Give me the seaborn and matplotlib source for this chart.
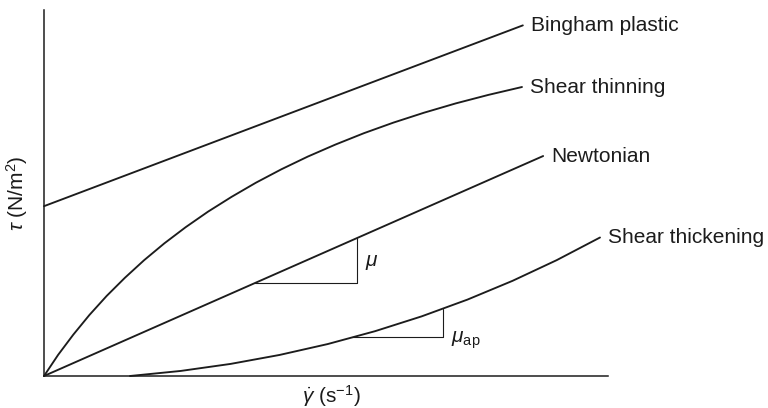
import numpy as np
import matplotlib
matplotlib.use("Agg")
import matplotlib.pyplot as plt
import seaborn as sns

# Flow curves: shear stress vs. shear rate (arbitrary units, 0-100)
bingham_rate = [0.0, 84.9]
bingham_stress = [46.4, 95.8]

newtonian_rate = [0.0, 88.5]
newtonian_stress = [0.0, 60.1]

thinning_rate = [0.0, 2.50, 5.20, 8.05, 11.10, 14.34, 17.75, 21.35, 25.12,
                 29.10, 33.24, 37.57, 42.09, 46.77, 51.65, 56.72, 61.95,
                 67.38, 73.00, 78.78, 84.75]
thinning_stress = [0.0, 5.77, 11.31, 16.67, 21.86, 26.83, 31.64, 36.26,
                   40.66, 44.92, 48.93, 52.81, 56.48, 59.95, 63.22, 66.34,
                   69.23, 71.94, 74.48, 76.80, 78.96]

thickening_rate = [15.25, 24.23, 33.07, 41.76, 50.31, 58.71, 66.97, 75.09,
                   83.07, 90.90, 98.58]
thickening_stress = [0.0, 1.38, 3.30, 5.75, 8.73, 12.25, 16.30, 20.88,
                     26.00, 31.65, 37.84]

curve_labels = ["Bingham plastic", "Shear thinning", "Newtonian", "Shear thickening"]

# Slope triangles: horizontal leg start / end on the shear-rate axis
mu_leg = [37.4, 55.5]
mu_ap_leg = [54.6, 70.7]

sns.set_theme(style="white")
plt.rcParams["font.family"] = ["Liberation Sans", "DejaVu Sans"]
plt.rcParams["mathtext.fontset"] = "custom"
plt.rcParams["mathtext.rm"] = "Liberation Sans"
plt.rcParams["mathtext.it"] = "Liberation Sans:italic"
plt.rcParams["mathtext.bf"] = "Liberation Sans:bold"

ink = "#1c1c1c"
fs = 15

fig = plt.figure(figsize=(7.68, 4.08), dpi=100)
ax = fig.add_axes([44 / 768, 32 / 408, 564 / 768, 366 / 408])

series = [
    (bingham_rate, bingham_stress),
    (thinning_rate, thinning_stress),
    (newtonian_rate, newtonian_stress),
    (thickening_rate, thickening_stress),
]

for (xs, ys), name in zip(series, curve_labels):
    sns.lineplot(x=xs, y=ys, ax=ax, color=ink, linewidth=1.35,
                 sort=False, estimator=None, clip_on=False)
    ax.annotate(name, xy=(xs[-1], ys[-1]), xytext=(8, 0),
                textcoords="offset pixels", ha="left", va="center",
                fontsize=fs, color=ink, annotation_clip=False)


def slope_triangle(xs, ys, leg, label, text_y, offset):
    x0, x1 = leg
    y0 = np.interp(x0, xs, ys)
    y1 = np.interp(x1, xs, ys)
    ax.plot([x0, x1, x1], [y0, y0, y1], color=ink, linewidth=0.8)
    ty = (y0 + y1) / 2 if text_y == "mid" else y0
    ax.annotate(label, xy=(x1, ty), xytext=offset, textcoords="offset pixels",
                ha="left", va="center", fontsize=fs, color=ink)


slope_triangle(newtonian_rate, newtonian_stress, mu_leg, r"$\mu$", "mid", (8, -2))
slope_triangle(thickening_rate, thickening_stress, mu_ap_leg,
               r"$\mu_{\mathrm{ap}}$", "base", (8, -3))

ax.set_xlim(0, 100)
ax.set_ylim(0, 100)
ax.set_xticks([])
ax.set_yticks([])
sns.despine(ax=ax)
for side in ("left", "bottom"):
    ax.spines[side].set_color(ink)
    ax.spines[side].set_linewidth(1.1)

ax.set_xlabel(r"$\dot{\gamma}$ (s$^{-1}$)", fontsize=fs, color=ink)
ax.xaxis.set_label_coords(0.509, -0.019)
ax.set_ylabel(r"$\tau$ (N/m$^2$)", fontsize=fs, color=ink)
ax.yaxis.set_label_coords(-0.025, 0.50)

fig.savefig("out.png", dpi=100)
